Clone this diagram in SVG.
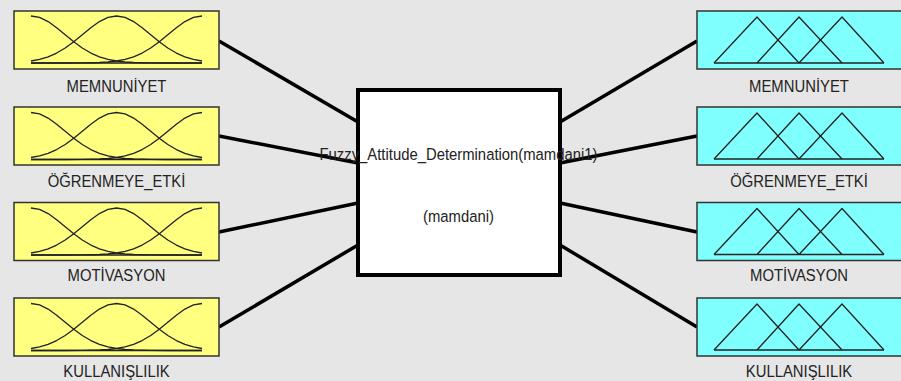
<svg xmlns="http://www.w3.org/2000/svg" xmlns:xlink="http://www.w3.org/1999/xlink" width="901" height="381" viewBox="0 0 901 381">
<style>
.bg{fill:#e6e6e6}
.in{fill:#ffff80;stroke:#333;stroke-width:1.5}
.out{fill:#80ffff;stroke:#333;stroke-width:1.5}
.mf{fill:none;stroke:#222;stroke-width:1.3;stroke-linejoin:round}
.lbl{font-family:"Liberation Sans",Arial,sans-serif;font-size:16.5px;fill:#222;text-anchor:middle}
.conn{stroke:#000;stroke-width:3.5;fill:none}
.core{fill:#fff;stroke:#000;stroke-width:4}
</style>
<defs>
<g id="gauss" class="mf">
<path d="M0,0 L8.55,1.46 L17.1,5.59 L25.65,11.66 L34.2,18.66 L42.75,25.66 L51.3,31.96 L59.85,37.04 L68.4,40.8 L76.95,43.37 L85.5,45.01 L94.05,45.98 L102.6,46.51 L111.15,46.77 L119.7,46.91 L136.8,47 L171,47"/>
<path d="M171,0 L162.45,1.46 L153.9,5.59 L145.35,11.66 L136.8,18.66 L128.25,25.66 L119.7,31.96 L111.15,37.04 L102.6,40.8 L94.05,43.37 L85.5,45.01 L76.95,45.98 L68.4,46.51 L59.85,46.77 L51.3,46.91 L34.2,47 L0,47"/>
<path d="M0,45.01 L8.55,43.37 L17.1,40.8 L25.65,37.04 L34.2,31.96 L42.75,25.66 L51.3,18.66 L59.85,11.66 L68.4,5.59 L76.95,1.46 L85.5,0 L94.05,1.46 L102.6,5.59 L111.15,11.66 L119.7,18.66 L128.25,25.66 L136.8,31.96 L145.35,37.04 L153.9,40.8 L162.45,43.37 L171,45.01"/>
<path d="M0,47 L171,47"/>
</g>
<g id="tri" class="mf">
<path d="M0,46 L43,0 L85,46"/>
<path d="M43,46 L85,0 L128,46"/>
<path d="M85,46 L128,0 L170,46"/>
<path d="M0,46 L170,46"/>
</g>
</defs>
<rect class="bg" x="0" y="0" width="901" height="381"/>
<g id="connectors">
<line class="conn" x1="219" y1="41" x2="358" y2="122"/>
<line class="conn" x1="219" y1="136" x2="358" y2="163"/>
<line class="conn" x1="219" y1="232" x2="358" y2="203"/>
<line class="conn" x1="219" y1="327" x2="358" y2="245"/>
<line class="conn" x1="560" y1="122" x2="697" y2="41"/>
<line class="conn" x1="560" y1="163" x2="697" y2="136"/>
<line class="conn" x1="560" y1="203" x2="697" y2="232"/>
<line class="conn" x1="560" y1="245" x2="697" y2="327"/>
</g>
<g id="in1">
<rect class="in" x="14" y="11" width="205" height="58"/>
<use xlink:href="#gauss" href="#gauss" transform="translate(31,16)"/>
<text class="lbl" transform="translate(116.5,91.5) scale(0.9,1)">MEMNUNİYET</text>
</g>
<g id="in2">
<rect class="in" x="14" y="107" width="205" height="58"/>
<use xlink:href="#gauss" href="#gauss" transform="translate(31,112.5)"/>
<text class="lbl" transform="translate(116.5,186.5) scale(0.9,1)">ÖĞRENMEYE_ETKİ</text>
</g>
<g id="in3">
<rect class="in" x="14" y="202.5" width="205" height="58"/>
<use xlink:href="#gauss" href="#gauss" transform="translate(31,208)"/>
<text class="lbl" transform="translate(116.5,281) scale(0.9,1)">MOTİVASYON</text>
</g>
<g id="in4">
<rect class="in" x="14" y="298" width="205" height="58"/>
<use xlink:href="#gauss" href="#gauss" transform="translate(31,303.5)"/>
<text class="lbl" transform="translate(116.5,377) scale(0.9,1)">KULLANIŞLILIK</text>
</g>
<g id="out1">
<rect class="out" x="697" y="11" width="206" height="58"/>
<use xlink:href="#tri" href="#tri" transform="translate(714,17)"/>
<text class="lbl" transform="translate(799,91.5) scale(0.9,1)">MEMNUNİYET</text>
</g>
<g id="out2">
<rect class="out" x="697" y="107" width="206" height="58"/>
<use xlink:href="#tri" href="#tri" transform="translate(714,113)"/>
<text class="lbl" transform="translate(799,186.5) scale(0.9,1)">ÖĞRENMEYE_ETKİ</text>
</g>
<g id="out3">
<rect class="out" x="697" y="202.5" width="206" height="58"/>
<use xlink:href="#tri" href="#tri" transform="translate(714,208.5)"/>
<text class="lbl" transform="translate(799,281) scale(0.9,1)">MOTİVASYON</text>
</g>
<g id="out4">
<rect class="out" x="697" y="298" width="206" height="58"/>
<use xlink:href="#tri" href="#tri" transform="translate(714,304)"/>
<text class="lbl" transform="translate(799,377) scale(0.9,1)">KULLANIŞLILIK</text>
</g>
<g id="system">
<rect class="core" x="358" y="90" width="202" height="185"/>
<text class="lbl" transform="translate(458.5,160) scale(0.9,1)">Fuzzy_Attitude_Determination(mamdani1)</text>
<text class="lbl" transform="translate(458.5,221.5) scale(0.9,1)">(mamdani)</text>
</g>
</svg>
